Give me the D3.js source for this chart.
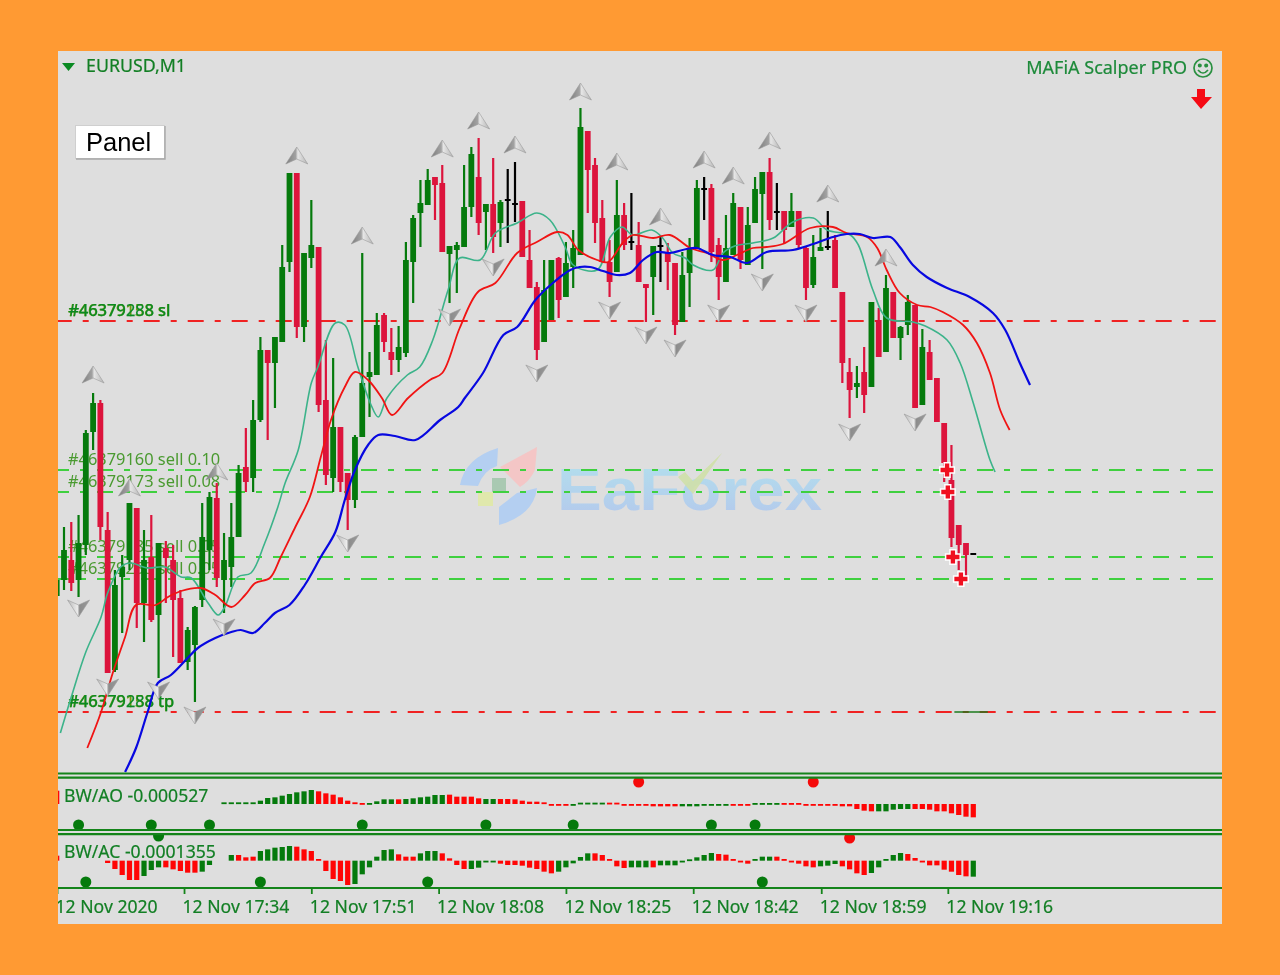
<!DOCTYPE html>
<html><head><meta charset="utf-8">
<script src="https://cdnjs.cloudflare.com/ajax/libs/d3/7.8.5/d3.min.js"></script>
<style>
html,body{margin:0;padding:0;background:#ff9a33;overflow:hidden}
svg{display:block;filter:blur(0.45px)}
text{font-family:"Noto Sans",sans-serif}
</style></head><body><svg id="c" width="1280" height="975"></svg>
<script>
// Prices are in points: 18179 means 1.18179. First bar is index -1.
const firstBar=-1;
const barHigh=[17930,17973,17978,17985,18070,18107,18100,17988,17930,17945,17997,17992,17970,17985,17957,17959,17955,17910,17873,17894,17997,18008,18017,17967,17997,18035,18072,18100,18163,18150,18163,18255,18327,18327,18247,18300,18253,18160,18142,18073,18027,18065,18247,18148,18187,18187,18172,18174,18258,18285,18320,18331,18323,18335,18254,18258,18335,18353,18362,18296,18342,18300,18331,18338,18299,18270,18218,18240,18240,18243,18258,18270,18392,18369,18342,18300,18260,18320,18297,18307,18278,18216,18254,18263,18257,18237,18248,18262,18320,18323,18316,18262,18285,18307,18293,18293,18323,18328,18342,18317,18289,18307,18289,18253,18265,18272,18289,18265,18208,18142,18134,18153,18198,18192,18225,18208,18174,18205,18195,18171,18160,18122,18077,18055,17975,17957,17947];
const barLow=[17890,17910,17909,17903,17945,18050,17960,17827,17828,17867,17930,17872,17858,17878,17822,17897,17843,17837,17830,17798,17893,17930,17913,17887,17913,17963,18008,18008,18078,18060,18092,18158,18228,18162,18158,18232,18088,18015,18008,18008,17970,17992,18063,18083,18125,18148,18125,18128,18143,18197,18253,18295,18280,18248,18197,18207,18253,18283,18265,18250,18247,18253,18257,18278,18243,18212,18140,18158,18180,18182,18203,18212,18245,18287,18257,18238,18203,18228,18250,18250,18218,18178,18185,18218,18210,18165,18178,18193,18252,18280,18238,18200,18218,18245,18231,18235,18277,18231,18270,18270,18257,18273,18252,18200,18212,18249,18250,18212,18117,18082,18102,18087,18113,18143,18148,18162,18140,18165,18092,18095,18120,18078,18018,17953,17930,17923,17945];
const barOpen=[17904,17920,17940,17920,17955,18068,18097,17970,17830,17923,17940,17992,17897,17943,17885,17952,17940,17902,17838,17855,17900,17950,18002,17920,17933,17963,18033,18022,18080,18150,18137,18158,18238,18327,18173,18242,18253,18100,18022,18073,18027,18000,18063,18123,18125,18185,18148,18140,18147,18238,18287,18295,18323,18317,18246,18250,18253,18293,18323,18288,18296,18277,18300,18296,18299,18240,18213,18158,18180,18242,18203,18233,18245,18369,18335,18282,18238,18228,18285,18258,18255,18216,18223,18254,18248,18237,18178,18227,18252,18311,18312,18255,18218,18245,18293,18235,18277,18306,18328,18288,18289,18273,18289,18252,18215,18249,18253,18260,18208,18128,18113,18128,18113,18180,18148,18208,18162,18175,18195,18095,18148,18122,18077,18020,17975,17957,17946];
const barClose=[17920,17950,17917,17957,18067,18097,17973,17827,17915,17933,17997,17897,17940,17880,17957,17942,17900,17837,17870,17893,17963,18003,17922,17940,17963,18027,18018,18080,18150,18137,18163,18233,18327,18173,18247,18255,18095,18025,18073,18018,18000,18063,18117,18128,18175,18158,18140,18153,18240,18282,18297,18320,18315,18248,18254,18255,18293,18346,18277,18296,18263,18298,18300,18296,18243,18212,18150,18210,18240,18200,18237,18252,18373,18330,18277,18238,18218,18285,18255,18258,18218,18212,18254,18254,18238,18175,18225,18252,18312,18311,18248,18223,18252,18297,18240,18275,18311,18328,18280,18288,18270,18289,18255,18212,18243,18253,18253,18212,18137,18110,18117,18105,18198,18143,18212,18162,18173,18198,18092,18153,18120,18078,18037,17962,17955,17945,17946];

const blueBars=[8.4,9.9,11.5,12.9,14.7,17,18.4,20.8,23,24.3,26,27.6,29,31,33.1,35.3,37.3,38.6,40,41.8,43.2,45.5,48.3,51.7,54.2,55.1,57.6,60.4,62.3,64.8,67.2,69.6,70.9,72.3,74.1,76,77.8,79.6,81.5,83.3,85.6,87,89.2,91.6,93.9,96.6,100.2,103,105.7,107.6,109.4,111.2,113.6,114.9,116.7,118.6,121.4,124.5,127.7,129.4,131.4,132.8];
const blueValues=[17728,17752,17788,17817,17825,17842,17852,17862,17868,17870,17867,17877,17887,17895,17915,17943,17968,18000,18030,18055,18065,18064,18060,18080,18093,18102,18127,18165,18173,18200,18217,18230,18233,18233,18229,18225,18227,18240,18248,18247,18251,18252,18245,18243,18237,18248,18250,18256,18263,18266,18266,18262,18263,18253,18235,18223,18212,18203,18187,18170,18137,18115];
const redBars=[3.2,5.1,6.7,8.4,9.9,12.6,14.3,16.1,18.8,20.8,23,24.9,26.3,28.3,29.8,31.8,33.8,35.3,36.7,38.6,40,41.8,43.7,45.1,47.3,50.3,52,54.4,56.9,59.3,62.3,65,67.8,69.2,70.7,73.3,74.8,76.8,78.2,81,83.3,86.1,88.4,90.6,92.5,94.7,96.6,98.8,102.6,105.7,107.6,110.4,111.8,113.1,114.9,117.3,119.1,120.8,123.6,125.5,127.3,128.7,130];
const redValues=[17752,17788,17827,17863,17895,17895,17903,17909,17912,17905,17893,17905,17917,17922,17943,17973,18003,18043,18080,18113,18128,18120,18102,18085,18102,18120,18127,18172,18208,18217,18247,18258,18268,18265,18250,18240,18238,18257,18265,18262,18265,18252,18247,18240,18245,18252,18253,18256,18272,18273,18267,18263,18252,18230,18207,18195,18193,18188,18175,18157,18127,18090,18070];
const tealBars=[-0.5,1,3,5.1,6,7.8,9.1,11.5,13.9,16.1,17.5,19.8,21.2,22.1,23.9,25.7,27.6,29.4,30.4,32.2,34,34.9,37.3,38.6,40.4,42.1,43.2,44.4,47.2,48.9,50.7,52.8,54.4,57.2,59.3,62.3,65,66.8,68.9,70,73.3,75.1,76.7,78.2,80.8,82.3,83.7,85.4,86.5,89.2,90.6,92.2,94.7,97.5,100.2,103,104.9,108.1,109.2,111.2,113.1,116.7,118.4,121.4,123.2,125,127.3,128];
const tealValues=[17767,17803,17848,17883,17907,17933,17937,17932,17933,17923,17922,17897,17885,17893,17923,17927,17957,17993,18017,18050,18117,18133,18177,18175,18133,18097,18083,18102,18125,18133,18160,18210,18242,18240,18267,18277,18287,18280,18253,18235,18230,18263,18273,18265,18270,18262,18247,18242,18235,18230,18247,18254,18257,18262,18278,18282,18270,18265,18255,18210,18182,18178,18174,18160,18137,18097,18040,18028];

const upBars=[4,9,21,32,41,52,57,62,71,76,82,88,92,97,105,113];
const upValues=[18125,18012,18028,18344,18264,18351,18379,18355,18408,18338,18283,18340,18324,18359,18306,18242];
const downBars=[2,6,13,18,22,39,53,59,65,75,80,84,90,96,102,108,117];
const downValues=[17892,17813,17810,17785,17873,17957,18183,18233,18127,18190,18165,18152,18187,18218,18187,18068,18078];

const redLevels=[18179,17788];
const greenLevels=[18030,18008,17943,17921];
const fillBars=[121.4,121.5,122.2,123.3];
const fillValues=[18030,18008,17943,17921];
const slLabels=["#46379158 sl","#46379288 sl"];
const tpLabels=["#46379158 tp","#46379288 tp"];
const sellLabels=["#46379160 sell 0.10","#46379173 sell 0.08","#46379185 sell 0.05","#46379253 sell 0.05"];

// Oscillators, in units
const aoStart=22;
const aoValues=[5,5,5,5,5,10,18,20,25,30,35,38,42,38,32,28,20,10,5,3,3,8,14,14,14,15,17,20,22,27,27,28,22,22,22,17,15,15,15,15,14,10,
 7,7,5,-5,-5,-5,-4,4,4,4,4,4,4,-4,-4,-4,-4,-7,-7,-7,-7,-7,-7,-7,-3,-3,-3,-3,-3,-3,-3,3,3,3,3,3,3,3,-3,-3,-3,-3,-3,-7,-7,-15,-20,-22,-22,-22,-17,-15,-15,-15,-15,-17,-22,-22,-28,-33,-38,-40];
const aoColors="gggggggggggggrrrrrrrggggrggggggrrrrrggrrrr"+"rrrrrrgggggrrrrrrrrrrgggggggrrrggggrrrrrrrrrrrrrgggggrrrrrrrrr";
const acStart=6;
const acValues=[-7,-25,-43,-58,-58,-46,-28,-20,-20,-26,-31,-36,-36,-33,-13,0,0,17,17,10,12,29,34,39,41,44,42,34,29,5,-31,-55,-61,-73,-70,-41,-20,12,32,34,19,12,12,22,29,29,22,7,-13,-25,-25,-21,-3,-2,-9,-13,-13,-15,
 -21,-25,-33,-38,-33,-20,-8,11,22,22,17,5,-17,-22,-20,-20,-20,-20,-14,-14,-14,-2,4,10,17,23,20,18,5,-3,-9,5,12,12,12,5,-2,-9,-17,-20,-17,-15,-10,-17,-26,-38,-43,-37,-20,5,17,23,20,8,-2,-14,-14,-27,-33,-43,-47,-48];
const acColors="rrrrrgggrrrrrgggggrrrgggggrrrrrrrrggggggrrrgggrrrrggggrrrr"+"rrrrgggggrrrrrgggrggggggggrrrrrgggrrrrrrgggrrrrgggggrrrrrrrrrg";
const aoDotBars=[2,12,20,41,58,70,89,95], aoDotValues=[-63,-63,-63,-63,-63,-63,-63,-63];
const aoRedDotBars=[79,103], aoRedDotValues=[66,66];
const acDotBars=[3,27,50,96,13], acDotValues=[-64,-64,-64,-64,74];
const acRedDotBars=[108], acRedDotValues=[68];
const tickBars=[-0.96,16.5,34,51.5,69,86.5,104.1,121.5];
const tickLabels=["12 Nov 2020","12 Nov 17:34","12 Nov 17:51","12 Nov 18:08","12 Nov 18:25","12 Nov 18:42","12 Nov 18:59","12 Nov 19:16"];

const GREEN="#057a0c",CRIMSON="#dc143c",TXT="#127f24",RULE="#14841a";
const svg=d3.select("#c");
const x=d3.scaleLinear().domain([0,124]).range([64,966]);
const y=d3.scaleLinear().domain([18449,17728]).range([51,772]);
const aoY=d3.scaleLinear().domain([-60,60]).range([824,784]);
const acY=d3.scaleLinear().domain([-60,60]).range([880.67,840.67]);
const defs=svg.append("defs");
const clip=(id,a,b,c,d)=>defs.append("clipPath").attr("id",id).append("rect").attr("x",a).attr("y",b).attr("width",c).attr("height",d);
clip("plot",58,51,1164,873);clip("main",58,51,1164,722);clip("aoP",58,778,1164,52);clip("acP",58,834,1164,54);
const g1=defs.append("linearGradient").attr("id","wm").attr("x1",0).attr("y1",0).attr("x2",0).attr("y2",1);
g1.append("stop").attr("offset",0).attr("stop-color","#a9e2f1");g1.append("stop").attr("offset",1).attr("stop-color","#abc3f0");
const g2=defs.append("linearGradient").attr("id","au").attr("x1",0).attr("y1",0).attr("x2",1).attr("y2",0);
[[0,"#7d7d7d"],[.45,"#a2a2a2"],[.55,"#e6e6e6"],[1,"#b4b4b4"]].forEach(s=>g2.append("stop").attr("offset",s[0]).attr("stop-color",s[1]));
const g3=defs.append("linearGradient").attr("id","ad").attr("x1",0).attr("y1",0).attr("x2",1).attr("y2",0);
[[0,"#b8b8b8"],[.45,"#ececec"],[.55,"#8c8c8c"],[1,"#9a9a9a"]].forEach(s=>g3.append("stop").attr("offset",s[0]).attr("stop-color",s[1]));

svg.append("rect").attr("width",1280).attr("height",975).attr("fill","#ff9a33");
svg.append("rect").attr("x",58).attr("y",51).attr("width",1164).attr("height",873).attr("fill","#dedede");

// watermark
const wm=svg.append("g");
wm.append("path").attr("d","M460,485Q465,458 498,448L497,466Q484,470 478,486Z").attr("fill","#b4cff1");
wm.append("path").attr("d","M500,467L537,447L535,470Q530,481 520,487L513,480Z").attr("fill","#f4c6c6");
wm.append("rect").attr("x",492).attr("y",478).attr("width",14).attr("height",14).attr("fill","#a9c9b2");
wm.append("rect").attr("x",478).attr("y",492).attr("width",15).attr("height",14).attr("fill","#e0e8ac");
wm.append("path").attr("d","M499,507L517,493L537,488Q534,515 499,525Z").attr("fill","#b4cff1");
wm.append("text").attr("x",557).attr("y",510).attr("textLength",265).attr("lengthAdjust","spacingAndGlyphs").attr("opacity",.82)
  .style("font-family","'Liberation Sans'").style("font-weight","bold").attr("font-size",60).attr("fill","url(#wm)").text("EaForex");
wm.append("path").attr("d","M678,477L685,472L693,481L722,453L693,494Z").attr("fill","#cfe0a8").attr("opacity",.9);

const lv=svg.append("g").attr("clip-path","url(#main)");
const lineAt=(v,c,off)=>lv.append("line").attr("x1",58).attr("x2",1222).attr("y1",y(v)).attr("y2",y(v))
  .attr("stroke",c).attr("stroke-width",2.2).attr("stroke-dasharray","16 11 6 11").attr("stroke-dashoffset",off);
greenLevels.forEach(v=>lineAt(v,"#3fd03f",5));
redLevels.forEach(v=>lineAt(v,"#f02222",2.3));

// order labels
const lab=svg.append("g").attr("font-size",16.4).attr("stroke-width",.25);
const pair=["#0a8a22","#6f9a10"];
slLabels.forEach((t,i)=>lab.append("text").attr("x",68+i*.5).attr("y",y(redLevels[0])-5).attr("fill",pair[1-i]).attr("stroke",pair[1-i]).text(t));
tpLabels.forEach((t,i)=>lab.append("text").attr("x",68+i*.5).attr("y",y(redLevels[1])-5).attr("fill",pair[1-i]).attr("stroke",pair[1-i]).text(t));
sellLabels.forEach((t,i)=>lab.append("text").attr("x",68).attr("y",y(greenLevels[i])-5).attr("fill","#4a9a30").text(t));

// candles
const candles=barOpen.map((o,i)=>({b:i+firstBar,o,c:barClose[i],h:barHigh[i],l:barLow[i]}));
const col=d=>d.o===d.c?"#000":(d.c>d.o?GREEN:CRIMSON);
const cg=svg.append("g").attr("clip-path","url(#main)");
const cs=cg.selectAll("g").data(candles).join("g");
cs.append("line").attr("x1",d=>x(d.b)).attr("x2",d=>x(d.b)).attr("y1",d=>y(d.h)).attr("y2",d=>y(d.l)).attr("stroke",col).attr("stroke-width",2.2);
cs.append("rect").attr("x",d=>x(d.b)-2.9).attr("width",5.8)
  .attr("y",d=>y(Math.max(d.o,d.c))-(d.o===d.c?1:0)).attr("height",d=>Math.max(2,Math.abs(y(d.o)-y(d.c)))).attr("fill",col);

// alligator lines
const ln=d3.line().x(d=>x(d[0])).y(d=>y(d[1])).curve(d3.curveCatmullRom.alpha(.5));
const ma=svg.append("g").attr("clip-path","url(#main)").attr("fill","none");
ma.append("path").attr("d",ln(d3.zip(tealBars,tealValues))).attr("stroke","#3cb38a").attr("stroke-width",1.6);
ma.append("path").attr("d",ln(d3.zip(redBars,redValues))).attr("stroke","#f01414").attr("stroke-width",1.8);
ma.append("path").attr("d",ln(d3.zip(blueBars,blueValues))).attr("stroke","#0808e0").attr("stroke-width",2.2);

// arrows
const ag=svg.append("g");
d3.zip(upBars,upValues).forEach(d=>ag.append("path").attr("transform",`translate(${x(d[0])},${y(d[1])})`)
  .attr("d","M0,-9L11,8L0,3L-11,8Z").attr("fill","url(#au)").attr("stroke","#9a9a9a").attr("stroke-width",.6));
d3.zip(downBars,downValues).forEach(d=>ag.append("path").attr("transform",`translate(${x(d[0])},${y(d[1])})`)
  .attr("d","M0,9L-11,-8L0,-3L11,-8Z").attr("fill","url(#ad)").attr("stroke","#9a9a9a").attr("stroke-width",.6));

// entry marks
const star=d3.symbol().type(d3.symbolCross).size(95);
d3.zip(fillBars,fillValues).forEach(d=>ag.append("path").attr("transform",`translate(${x(d[0])},${y(d[1])})`)
  .attr("d",star()).attr("fill","#f01020").attr("stroke","#fff").attr("stroke-width",3).attr("paint-order","stroke"));
// tp tail
ag.append("line").attr("x1",x(122.4)).attr("x2",x(127)).attr("y1",y(17788)).attr("y2",y(17788)).attr("stroke","#1c7a1c").attr("stroke-width",1.4);

// histograms
function hist(sel,scale,start,vals,colors){
  vals.forEach((v,i)=>{ if(v===0) return;
    sel.append("rect").attr("x",x(i+start)-2.6).attr("width",5.2)
      .attr("y",Math.min(scale(v),scale(0)))
      .attr("height",Math.max(1.8,Math.abs(scale(v)-scale(0))))
      .attr("fill",colors[i]==="g"?GREEN:"#ff0505");
  });
}
const aoG=svg.append("g").attr("clip-path","url(#aoP)");
hist(aoG,aoY,aoStart,aoValues,aoColors);
hist(aoG,aoY,-1,[40],"r");
const acG=svg.append("g").attr("clip-path","url(#acP)");
hist(acG,acY,acStart,acValues,acColors);
hist(acG,acY,-1,[15],"r");
const dots=(sel,sc,bs,vs,c)=>d3.zip(bs,vs).forEach(d=>sel.append("circle").attr("cx",x(d[0])).attr("cy",sc(d[1])).attr("r",5.5).attr("fill",c));
dots(aoG,aoY,aoDotBars,aoDotValues,"#057a0c");dots(aoG,aoY,aoRedDotBars,aoRedDotValues,"#f50a0a");
dots(acG,acY,acDotBars,acDotValues,"#057a0c");dots(acG,acY,acRedDotBars,acRedDotValues,"#f50a0a");

// panel separators
[773.5,777.7,830,834.2].forEach(p=>svg.append("line").attr("x1",58).attr("x2",1222).attr("y1",p).attr("y2",p).attr("stroke",RULE).attr("stroke-width",2.2));

// panel labels
const pl=svg.append("g").attr("font-size",17.6).attr("fill",TXT).attr("stroke",TXT).attr("stroke-width",.2);
pl.append("text").attr("x",64).attr("y",802).text("BW/AO -0.000527");
pl.append("text").attr("x",64).attr("y",858).text("BW/AC -0.0001355");

// time axis
const axis=d3.axisBottom(x).tickValues(tickBars).tickFormat((d,i)=>tickLabels[i]).tickSizeOuter(0).tickSize(6);
const ax=svg.append("g").attr("transform","translate(0,888)").attr("clip-path","url(#axClip)");
defs.append("clipPath").attr("id","axClip").append("rect").attr("x",58).attr("y",-3).attr("width",1164).attr("height",40);
ax.call(axis);
ax.select(".domain").remove();
ax.selectAll("line").attr("stroke",RULE).attr("stroke-width",1.8);
ax.selectAll("text").attr("text-anchor","start").attr("y",25).attr("dy",0).attr("x",-2).attr("fill",TXT).attr("stroke",TXT).attr("stroke-width",.2).style("font-family","'Noto Sans'").style("font-size","17.6px");
svg.append("line").attr("x1",58).attr("x2",1222).attr("y1",888).attr("y2",888).attr("stroke",RULE).attr("stroke-width",2.2);

// header
svg.append("path").attr("d","M62,63L75,63L68.5,71Z").attr("fill","#0a8a22");
svg.append("text").attr("x",86).attr("y",72).attr("font-size",17.8).attr("fill",TXT).attr("stroke",TXT).attr("stroke-width",.2).text("EURUSD,M1");
svg.append("text").attr("x",1187).attr("y",74).attr("text-anchor","end").attr("font-size",18).attr("fill","#1d8a3a").attr("stroke","#1d8a3a").attr("stroke-width",.2).text("MAFiA Scalper PRO");
const sm=svg.append("g").attr("transform","translate(1203,68)").attr("fill","none").attr("stroke","#2a9040").attr("stroke-width",1.7);
sm.append("circle").attr("r",9);
sm.append("circle").attr("cx",-3.2).attr("cy",-2.5).attr("r",1.2).attr("fill","#2a9040");
sm.append("circle").attr("cx",3.2).attr("cy",-2.5).attr("r",1.2).attr("fill","#2a9040");
sm.append("path").attr("d","M-5,2Q0,8 5,2");
svg.append("path").attr("d","M1197,89L1205,89L1205,97L1212,97L1201,109L1191,97L1197,97Z").attr("fill","#f50a14");

// button
svg.append("rect").attr("x",75.5).attr("y",125.5).attr("width",89).attr("height",33).attr("fill","#fff").attr("stroke","#cfcfcf");
svg.append("path").attr("d","M76,159H165V126").attr("fill","none").attr("stroke","#a8a8a8").attr("stroke-width",1.4);
svg.append("text").attr("x",86).attr("y",151).style("font-family","'Liberation Sans'").attr("font-size",25.5).attr("fill","#000").text("Panel");
</script></body></html>
